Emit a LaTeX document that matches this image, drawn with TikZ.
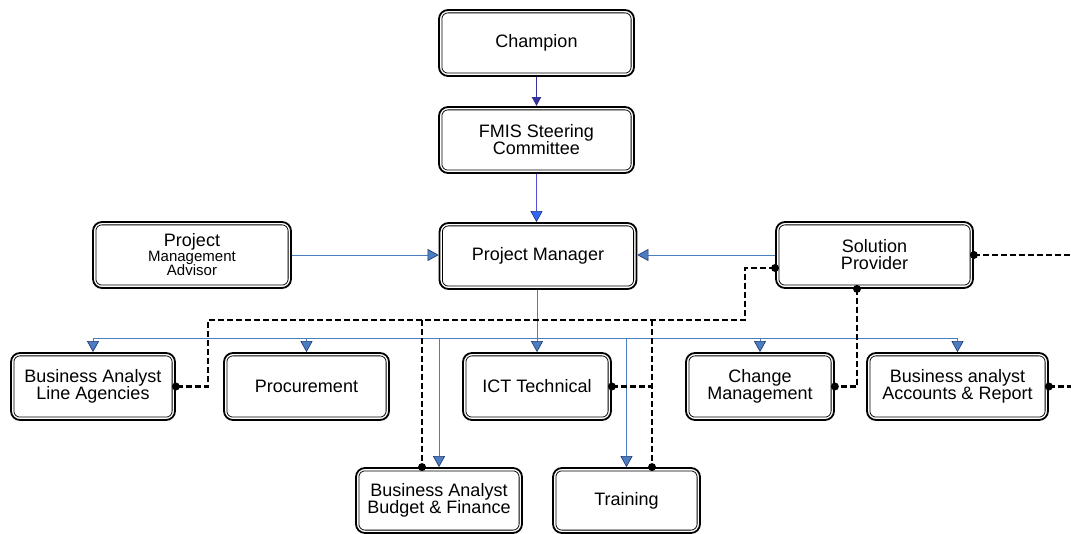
\documentclass[tikz,border=0pt]{standalone}
\usepackage{fontspec}
\setmainfont{Liberation Sans}
\usetikzlibrary{arrows.meta}

\definecolor{linkblue}{RGB}{74,126,193}
\definecolor{tipedge}{RGB}{30,50,110}
\definecolor{navyline}{RGB}{51,51,153}
\definecolor{steerline}{RGB}{80,80,215}
\definecolor{steertip}{RGB}{51,102,255}
\newcommand\smallline{\fontsize{15}{13}\selectfont}

\tikzset{
  orgbox/.style={draw=black, line width=1.8pt, rounded corners=9pt, align=center,
    font=\fontsize{18}{17}\selectfont, inner sep=0pt, minimum height=66pt,
    append after command={\pgfextra{\let\orgouter\tikzlastnode
      \draw[black, line width=0.8pt, rounded corners=6pt]
        ([shift={(3.8pt,3.8pt)}]\orgouter.south west) rectangle
        ([shift={(-3.8pt,-3.8pt)}]\orgouter.north east);}}},
  link/.style={draw=linkblue, line width=0.9pt},
  linkarrow/.style={link, -{Triangle[width=12pt,length=11pt,fill=linkblue,color=tipedge,line width=0.6pt]}},
  dotted link/.style={draw=black, line width=2.4pt, dash pattern=on 6pt off 3pt},
  joint/.style={circle, fill=black, inner sep=0pt, minimum size=8pt},
}

\begin{document}
\begin{tikzpicture}[x=1pt, y=-1pt]
  \useasboundingbox (0,0) rectangle (1071,534);

  % boxes
  \node[orgbox, minimum width=195pt] (champ) at (536.5,43) {Champion};
  \node[orgbox, minimum width=195pt] (fmis) at (536.5,140) {FMIS Steering\\Committee};
  \node[orgbox, minimum width=197pt] (pm) at (538,256) {Project Manager};
  \node[orgbox, minimum width=198pt] (pma) at (192,255)
    {Project\\[-2pt]{\smallline Management}\\[-3pt]{\smallline Advisor}};
  \node[orgbox, minimum width=197pt] (sp) at (874.5,255) {Solution\\Provider};

  \node[orgbox, minimum width=164pt, minimum height=67pt] (bala) at (93,386.5) {Business Analyst\\Line Agencies};
  \node[orgbox, minimum width=165pt, minimum height=67pt] (proc) at (306.5,386.5) {Procurement};
  \node[orgbox, minimum width=148pt, minimum height=67pt] (ict) at (537,386.5) {ICT Technical};
  \node[orgbox, minimum width=148pt, minimum height=67pt] (cm) at (760,386.5) {Change\\Management};
  \node[orgbox, minimum width=181pt, minimum height=67pt] (baar) at (957.5,386.5) {Business analyst\\Accounts \& Report};

  \node[orgbox, minimum width=166pt, minimum height=65pt] (babf) at (439,500.5) {Business Analyst\\Budget \& Finance};
  \node[orgbox, minimum width=147pt, minimum height=65pt] (train) at (626.5,500.5) {Training};

  % reporting lines
  \draw[draw=navyline, line width=1.8pt,
        -{Triangle[width=9pt,length=9pt,color=navyline]}] (champ.south) -- (fmis.south |- fmis.north);
  \draw[draw=steerline, line width=0.9pt,
        -{Triangle[width=12pt,length=11pt,fill=steertip,color=tipedge,line width=0.6pt]}]
        (fmis.south) -- (fmis.south |- pm.north);
  \draw[linkarrow] (pma.east) -- (pma.east -| pm.west);
  \draw[linkarrow] (sp.west) -- (sp.west -| pm.east);

  \coordinate (bus) at (537,338);
  \draw[link] (pm.south -| bus) -- (bus);
  \draw[link] (bus -| bala.north) -- (bus -| baar.north);
  \foreach \n in {bala, proc, ict, cm, baar, babf, train}
    \draw[linkarrow] (bus -| \n.north) -- (\n.north);

  % supplier coordination lines
  \coordinate (spL) at ([yshift=-13pt]sp.west);
  \coordinate (spB) at ([xshift=-17.5pt]sp.south);
  \coordinate (dR) at (745,320);
  \coordinate (dL) at (208,320);
  \coordinate (bfT) at ([xshift=-17pt]babf.north);
  \coordinate (trT) at ([xshift=25.5pt]train.north);
  \coordinate (edgeA) at (1071,255);
  \coordinate (edgeB) at (1071,386.5);

  \draw[dotted link] (spL) -| (dR) -- (dL) |- (bala.east);
  \draw[dotted link] (bfT |- dL) -- (bfT);
  \draw[dotted link] (trT |- dL) -- (trT);
  \draw[dotted link] (ict.east) -- (ict.east -| trT);
  \draw[dotted link] (spB) |- (cm.east);
  \draw[dotted link] (sp.east) -- (edgeA);
  \draw[dotted link] (baar.east) -- (edgeB);

  \foreach \p in {spL, spB, bfT, trT, sp.east, bala.east, ict.east, cm.east, baar.east}
    \node[joint] at (\p) {};
\end{tikzpicture}
\end{document}
